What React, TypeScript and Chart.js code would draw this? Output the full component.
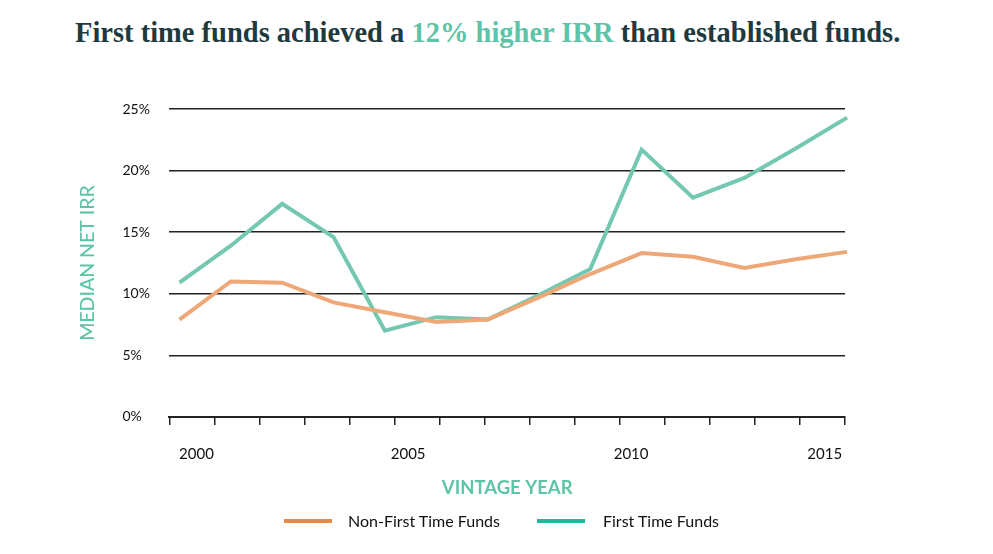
import React, { useEffect, useRef } from 'react';
import { Chart, registerables } from 'chart.js';

Chart.register(...registerables);

// ---- data ----
const pointIndex = [0, 1, 2, 3, 4, 5, 6, 7, 8, 9, 10, 11, 12, 13];
const firstTimeFunds = [10.9, 13.9, 17.3, 14.6, 7.0, 8.1, 7.9, 9.9, 12.0, 21.7, 17.8, 19.4, 21.8, 24.3];
const nonFirstTimeFunds = [7.9, 11.0, 10.9, 9.3, 8.5, 7.7, 7.9, 9.7, 11.6, 13.3, 13.0, 12.1, 12.8, 13.4];
const yearLabels = ['2000', '2005', '2010', '2015'];
const yearLabelAnchors = [2000.6, 2005.3, 2010.25, 2014.55];
const yMax = 25;
const yStep = 5;

const TEAL_LINE = 'rgb(116, 200, 178)';
const ORANGE_LINE = 'rgb(238, 168, 120)';
const TEAL_KEY = 'rgb(31, 184, 154)';
const ORANGE_KEY = 'rgb(232, 137, 74)';
const TEAL_TEXT = 'rgb(94, 196, 168)';
const DARK = '#1e3a3e';
const FONT = 'Lato, "Noto Sans", sans-serif';

export default function App() {
  const ref = useRef<HTMLCanvasElement | null>(null);

  useEffect(() => {
    if (!ref.current) return;
    const chart = new Chart(ref.current, {
      type: 'line',
      data: {
        datasets: [
          {
            label: 'Non-First Time Funds',
            data: pointIndex.map((x, i) => ({ x, y: nonFirstTimeFunds[i] })),
            borderColor: ORANGE_LINE,
            backgroundColor: ORANGE_KEY,
            borderWidth: 4,
            pointRadius: 0,
            tension: 0,
            xAxisID: 'x',
            yAxisID: 'y',
          },
          {
            label: 'First Time Funds',
            data: pointIndex.map((x, i) => ({ x, y: firstTimeFunds[i] })),
            borderColor: TEAL_LINE,
            backgroundColor: TEAL_KEY,
            borderWidth: 4,
            pointRadius: 0,
            tension: 0,
            xAxisID: 'x',
            yAxisID: 'y',
          },
        ],
      },
      options: {
        animation: false,
        responsive: true,
        maintainAspectRatio: false,
        layout: { padding: { top: 109, left: 70, right: 148, bottom: 60 } },
        plugins: {
          legend: { display: false },
          tooltip: { enabled: false },
        },
        clip: false as any,
        scales: {
          x: {
            type: 'linear',
            display: false,
            min: -0.195,
            max: 12.96,
          },
          xTicks: {
            type: 'linear',
            position: 'bottom',
            weight: 0,
            min: 2000,
            max: 2015,
            ticks: { display: false, stepSize: 1 },
            grid: {
              display: true,
              drawOnChartArea: false,
              drawTicks: true,
              tickLength: 8,
              color: '#222',
              lineWidth: 1.5,
            },
            border: { display: true, color: '#222', width: 2 },
          },
          xLabels: {
            type: 'linear',
            position: 'bottom',
            weight: 1,
            min: 2000,
            max: 2015,
            afterBuildTicks: (axis: any) => {
              axis.ticks = yearLabelAnchors.map((v) => ({ value: v }));
            },
            ticks: {
              autoSkip: false,
              maxRotation: 0,
              padding: 20,
              color: '#111',
              font: { family: FONT, size: 15 },
              callback: (_v: any, i: number) => yearLabels[i],
            },
            grid: { display: false, drawTicks: false },
            border: { display: false },
            title: {
              display: true,
              text: 'VINTAGE YEAR',
              color: TEAL_TEXT,
              font: { family: FONT, size: 18.5, weight: 'bold', lineHeight: 0.6 },
              padding: { top: 0, bottom: 0 },
            },
          },
          y: {
            type: 'linear',
            position: 'left',
            weight: 0,
            min: 0,
            max: yMax,
            afterFit: (axis: any) => {
              axis.width = 47;
            },
            ticks: {
              stepSize: yStep,
              crossAlign: 'far',
              color: '#111',
              font: { family: FONT, size: 14 },
              callback: (v: any) => `${v}%`,
            },
            grid: { color: '#222', lineWidth: 1.5, drawTicks: false },
            border: { display: false },
          },
          yTitle: {
            type: 'linear',
            position: 'left',
            weight: 1,
            ticks: { display: false },
            grid: { display: false, drawTicks: false },
            border: { display: false },
            title: {
              display: true,
              text: 'MEDIAN NET IRR',
              color: TEAL_TEXT,
              font: { family: FONT, size: 19.5, weight: 500 as any, lineHeight: 1.1 },
              padding: { top: 7, bottom: 24 },
            },
          },
        } as any,
      },
    });
    return () => chart.destroy();
  }, []);

  return (
    <div style={{ position: 'relative', width: 993, height: 554, background: '#fff', overflow: 'hidden' }}>
      <style>{`body{margin:0}`}</style>
      <div
        style={{
          position: 'absolute',
          left: 75,
          top: 14,
          whiteSpace: 'nowrap',
          fontFamily: '"Liberation Serif", serif',
          fontWeight: 'bold',
          fontSize: 28.5,
          lineHeight: '38px',
          color: DARK,
        }}
      >
        First time funds achieved a <span style={{ color: TEAL_TEXT }}>12% higher IRR</span> than established funds.
      </div>
      <canvas ref={ref} style={{ position: 'absolute', left: 0, top: 0, width: 993, height: 554 }} />
      <div
        style={{
          position: 'absolute',
          top: 510,
          left: 0,
          height: 22,
          fontFamily: FONT,
          fontSize: 16,
          color: '#111',
        }}
      >
        <div style={{ position: 'absolute', left: 284, top: 9, width: 48, height: 4, background: ORANGE_KEY }} />
        <div style={{ position: 'absolute', left: 348, top: 1, whiteSpace: 'nowrap', lineHeight: '20px' }}>Non-First Time Funds</div>
        <div style={{ position: 'absolute', left: 537, top: 9, width: 48, height: 4, background: TEAL_KEY }} />
        <div style={{ position: 'absolute', left: 603, top: 1, whiteSpace: 'nowrap', lineHeight: '20px' }}>First Time Funds</div>
      </div>
    </div>
  );
}
